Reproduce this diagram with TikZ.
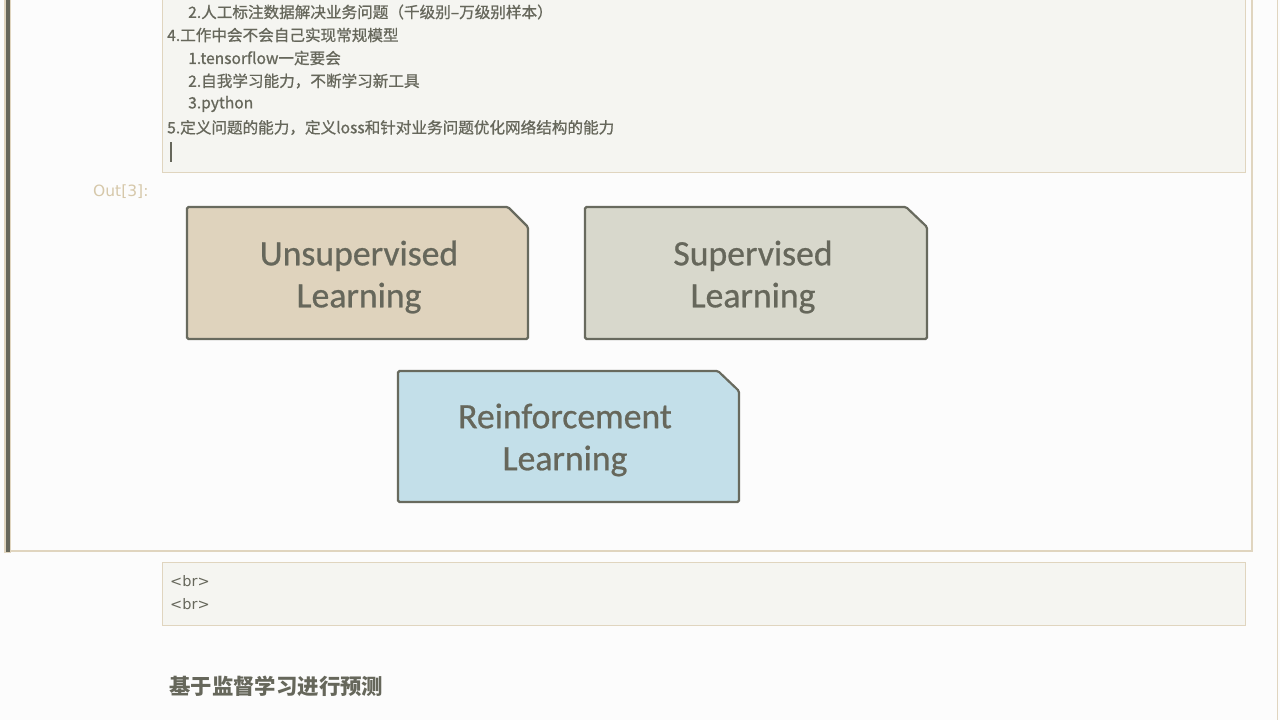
\documentclass[tikz,border=0pt]{standalone}
\usepackage{fontspec}
\newfontfamily\cjk{Noto Sans CJK SC}[FakeBold=0.9]
\newfontfamily\cjkplain{Noto Sans CJK SC}
\newfontfamily\calib{Carlito}[FakeBold=0.7]
\newfontfamily\dejavu{DejaVu Sans}
\definecolor{bg}{HTML}{FCFCFC}
\definecolor{ink}{HTML}{66675B}
\definecolor{beigeline}{HTML}{E0D5BF}
\definecolor{cellfill}{HTML}{F5F5F1}
\definecolor{outtext}{HTML}{D6C8AA}
\definecolor{fillU}{HTML}{DFD3BD}
\definecolor{fillS}{HTML}{D8D8CC}
\definecolor{fillR}{HTML}{C3DFE9}
\definecolor{boxline}{HTML}{686A5E}
\tikzset{
  cellbox/.style={draw=beigeline, line width=1pt, fill=cellfill},
  frameline/.style={draw=beigeline, line width=2pt},
  listtext/.style={anchor=west, inner sep=0pt, text=ink, font=\cjk\fontsize{15.6}{18}\selectfont},
  brtext/.style={anchor=west, inner sep=0pt, text=ink, font=\dejavu\fontsize{14.5}{16}\selectfont},
  snipbox/.style={draw=boxline, line width=2.2pt, rounded corners=1.5pt},
  boxtext/.style={text=ink, align=center, inner sep=0pt, font=\calib\fontsize{35.7}{42}\selectfont},
}
\begin{document}
\begin{tikzpicture}[x=1pt,y=-1pt]
\useasboundingbox[fill=bg] (0,0) rectangle (1280,720);
% outer output frame
\draw[frameline] (1252,0) -- (1252,551) -- (8,551);
\fill[beigeline] (4,0) rectangle (11,553);
\fill[ink] (5.5,0) rectangle (9.5,552);
\draw[beigeline, line width=1pt] (1277,0) -- (1277,720);
% top markdown cell
\draw[cellbox] (162,-5) rectangle (1245,172);
\node[listtext] (l1) at (188,12) {2.人工标注数据解决业务问题（千级别–万级别样本）};
\node[listtext] (l2) at (167,35) {4.工作中会不会自己实现常规模型};
\node[listtext] (l3) at (188,58) {1.tensorflow一定要会};
\node[listtext] (l4) at (188,81) {2.自我学习能力，不断学习新工具};
\node[listtext] (l5) at (188,104) {3.python};
\node[listtext] (l6) at (167,127.5) {5.定义问题的能力，定义loss和针对业务问题优化网络结构的能力};
\draw[ink, line width=1.5pt] (171,142) -- (171,162);
% Out label
\node[anchor=west, inner sep=0pt, text=outtext, font=\dejavu\fontsize{15.5}{17}\selectfont] (out) at (93,192) {Out[3]:};
% boxes
\draw[snipbox, fill=fillU] (187,207) -- (508,207) -- (528,227) -- (528,339) -- (187,339) -- cycle;
\node[boxtext] (unsup) at (359,277) {Unsupervised\\Learning};
\draw[snipbox, fill=fillS] (585,207) -- (906,207) -- (927,227) -- (927,339) -- (585,339) -- cycle;
\node[boxtext] (sup) at (753,277) {Supervised\\Learning};
\draw[snipbox, fill=fillR] (398,371) -- (718,371) -- (739,391) -- (739,502) -- (398,502) -- cycle;
\node[boxtext] (reinf) at (565,440) {Reinforcement\\Learning};
% bottom markdown cell
\draw[cellbox] (162,562) rectangle (1245,625);
\node[brtext] (br1) at (170,581) {<br>};
\node[brtext] (br2) at (170,604) {<br>};
% heading
\node[anchor=west, inner sep=0pt, text=ink, font=\cjkplain\bfseries\fontsize{21.4}{24}\selectfont] (head) at (169,686) {基于监督学习进行预测};
\end{tikzpicture}
\end{document}
